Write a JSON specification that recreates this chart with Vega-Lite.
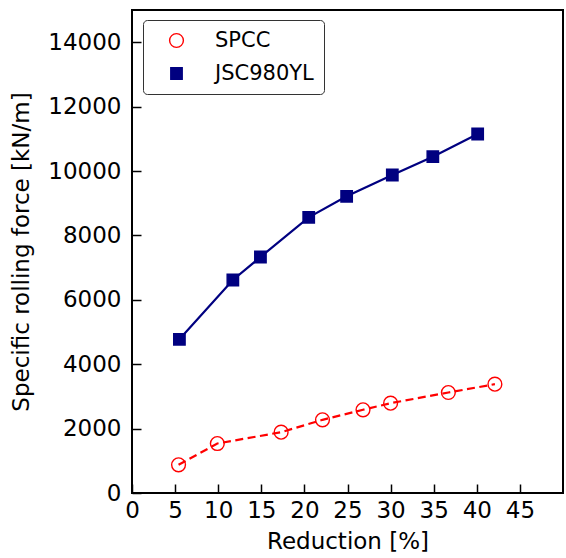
{
  "$schema": "https://vega.github.io/schema/vega-lite/v6.json",
  "width": 431,
  "height": 483,
  "autosize": {"type": "none"},
  "padding": {"left": 132, "top": 10, "right": 3, "bottom": 65},
  "config": {
    "view": {"stroke": null},
    "font": "DejaVu Sans"
  },
  "data": {
    "values": [
      {"series": "SPCC", "reduction": 5.4, "force": 876},
      {"series": "SPCC", "reduction": 9.9, "force": 1537},
      {"series": "SPCC", "reduction": 17.3, "force": 1888},
      {"series": "SPCC", "reduction": 22.1, "force": 2273},
      {"series": "SPCC", "reduction": 26.8, "force": 2584},
      {"series": "SPCC", "reduction": 30.0, "force": 2789},
      {"series": "SPCC", "reduction": 36.7, "force": 3121},
      {"series": "SPCC", "reduction": 42.1, "force": 3379},
      {"series": "JSC980YL", "reduction": 5.5, "force": 4773},
      {"series": "JSC980YL", "reduction": 11.7, "force": 6615},
      {"series": "JSC980YL", "reduction": 14.9, "force": 7329},
      {"series": "JSC980YL", "reduction": 20.5, "force": 8562},
      {"series": "JSC980YL", "reduction": 24.9, "force": 9214},
      {"series": "JSC980YL", "reduction": 30.2, "force": 9876},
      {"series": "JSC980YL", "reduction": 34.9, "force": 10444},
      {"series": "JSC980YL", "reduction": 40.1, "force": 11149}
    ]
  },
  "encoding": {
    "x": {
      "field": "reduction", "type": "quantitative",
      "scale": {"domain": [0, 50], "nice": false, "zero": false},
      "axis": {"title": "Reduction [%]", "values": [0, 5, 10, 15, 20, 25, 30, 35, 40, 45], "grid": false, "domain": false,
        "labelFont": "DejaVu Sans", "titleFont": "DejaVu Sans", "labelFontSize": 23, "titleFontSize": 23, "titleFontWeight": "normal",
        "labelColor": "#000000", "titleColor": "#000000", "tickColor": "#000000", "tickWidth": 1.5,
        "labelPadding": 6, "titlePadding": 8, "labelFlush": false, "offset": -9, "tickSize": 9}
    },
    "y": {
      "field": "force", "type": "quantitative",
      "scale": {"domain": [0, 15000], "nice": false},
      "axis": {"title": "Specific rolling force [kN/m]", "values": [0, 2000, 4000, 6000, 8000, 10000, 12000, 14000], "format": "d", "grid": false, "domain": false,
        "labelFont": "DejaVu Sans", "titleFont": "DejaVu Sans", "labelFontSize": 23, "titleFontSize": 23, "titleFontWeight": "normal",
        "labelColor": "#000000", "titleColor": "#000000", "tickColor": "#000000", "tickWidth": 1.5,
        "labelPadding": 11, "titlePadding": 14, "labelFlush": false, "offset": -9, "tickSize": 9}
    }
  },
  "layer": [
    {
      "mark": {"type": "rect", "fill": null, "stroke": "#000000", "strokeWidth": 2},
      "encoding": {
        "x": {"datum": 0},
        "x2": {"datum": 50},
        "y": {"datum": 0},
        "y2": {"datum": 15000}
      }
    },
    {
      "transform": [{"filter": {"field": "series", "equal": "SPCC"}}],
      "mark": {"type": "line", "strokeWidth": 2.2, "color": "#ff0000", "strokeDash": [8, 4.5]}
    },
    {
      "transform": [{"filter": {"field": "series", "equal": "JSC980YL"}}],
      "mark": {"type": "line", "strokeWidth": 2.2, "color": "#000080"}
    },
    {
      "mark": {"type": "point", "strokeWidth": 1.4, "opacity": 1},
      "encoding": {
        "shape": {"field": "series", "type": "nominal", "scale": {"domain": ["SPCC", "JSC980YL"], "range": ["circle", "square"]}, "title": null,
          "legend": {"orient": "none", "legendX": 11, "legendY": 10, "padding": 10, "rowPadding": 11, "symbolOffset": 13, "labelOffset": 28,
            "strokeColor": "#333333", "cornerRadius": 4, "fillColor": "#ffffff", "symbolStrokeWidth": 1.4,
            "labelFont": "DejaVu Sans", "labelFontSize": 21, "labelColor": "#000000"}},
        "stroke": {"field": "series", "type": "nominal", "scale": {"domain": ["SPCC", "JSC980YL"], "range": ["#ff0000", "#000080"]}, "title": null},
        "fill": {"field": "series", "type": "nominal", "scale": {"domain": ["SPCC", "JSC980YL"], "range": ["transparent", "#000080"]}, "title": null},
        "size": {"field": "series", "type": "nominal", "scale": {"domain": ["SPCC", "JSC980YL"], "range": [190, 130]}, "title": null}
      }
    }
  ]
}
